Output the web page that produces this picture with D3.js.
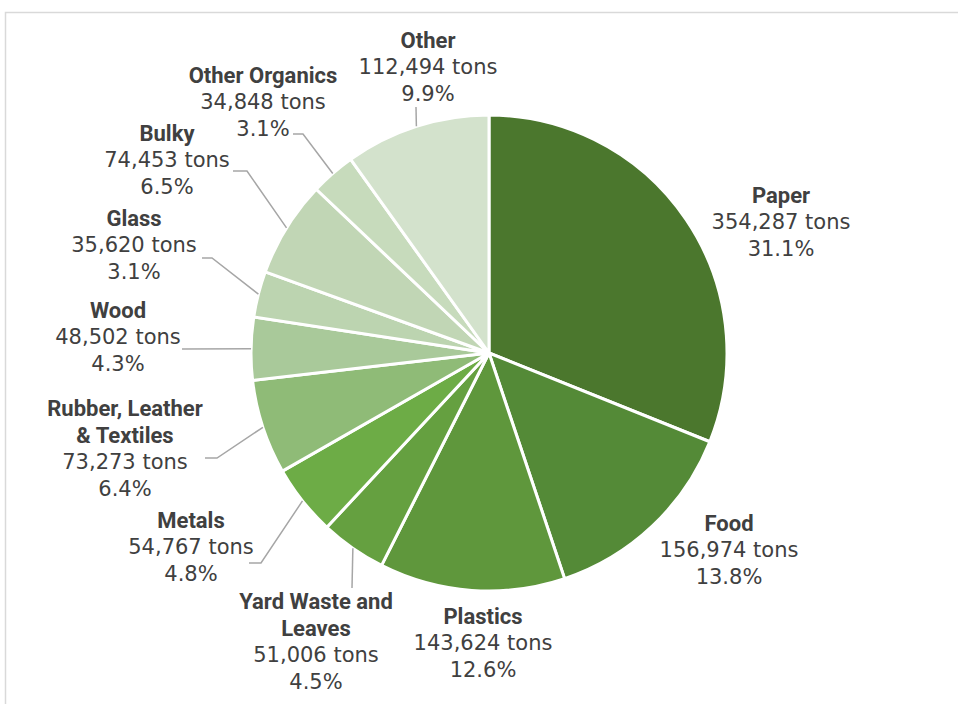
<!DOCTYPE html>
<html>
<head>
<meta charset="utf-8">
<script src="https://cdn.jsdelivr.net/npm/d3@7/dist/d3.min.js"></script>
<style>
  body { margin: 0; background: #fff; }
  .name { font-family: Roboto, "DejaVu Sans", sans-serif; font-weight: 700; fill: #404040; }
  .val { font-family: "DejaVu Sans", sans-serif; fill: #404040; }
</style>
</head>
<body>
<svg id="chart"></svg>
<script>
//-------------------------------------------------
// Data
//-------------------------------------------------
var categories = ["Paper", "Food", "Plastics", "Yard Waste and Leaves", "Metals",
  "Rubber, Leather & Textiles", "Wood", "Glass", "Bulky", "Other Organics", "Other"];
var tons = [354287, 156974, 143624, 51006, 54767, 73273, 48502, 35620, 74453, 34848, 112494];
var percents = ["31.1%", "13.8%", "12.6%", "4.5%", "4.8%", "6.4%", "4.3%", "3.1%", "6.5%", "3.1%", "9.9%"];
// label text broken into lines as in the original
var nameLines = [["Paper"], ["Food"], ["Plastics"], ["Yard Waste and", "Leaves"], ["Metals"],
  ["Rubber, Leather", "& Textiles"], ["Wood"], ["Glass"], ["Bulky"], ["Other Organics"], ["Other"]];
var colors = ["#4b772d", "#548a37", "#5f973c", "#65a040", "#6dac46", "#8fbb77",
  "#a9c99a", "#bcd4b0", "#c1d6b5", "#c7dbbc", "#d3e2cc"];

// label placement: centre x, y of first line (middle), leader elbow / end
var labelPos = [[781, 195], [729, 523], [483, 616], [316, 601], [191, 520],
  [125, 408], [118, 310], [134, 218], [167, 133], [263, 75], [428, 40]];
var leaderPts = [null, null, null, [[352, 588]], [[261, 563], [249, 563]],
  [[217, 458], [205, 458]], [[182, 349]], [[212, 258], [202, 258]],
  [[247, 171], [233, 171]], [[303, 134], [293, 134]], [[416, 107]]];
//-------------------------------------------------

var width = 958, height = 704;
var cx = 489, cy = 353, radius = 238;
var lineH = 27;

var svg = d3.select("#chart")
  .attr("width", width)
  .attr("height", height);

// chart frame
svg.append("path")
  .attr("d", "M5.5,704 L5.5,12.5 L958,12.5")
  .style("fill", "none")
  .style("stroke", "#d9d9d9")
  .style("stroke-width", 1.5);

var pie = d3.pie().sort(null).value(function(d){ return d; });
var arcs = pie(tons);

var arc = d3.arc().innerRadius(0).outerRadius(radius);

var g = svg.append("g").attr("transform", "translate(" + cx + "," + cy + ")");

g.selectAll("path")
  .data(arcs)
  .enter()
  .append("path")
  .attr("d", arc)
  .style("fill", function(d, i){ return colors[i]; })
  .style("stroke", "#fff")
  .style("stroke-width", 3)
  .style("stroke-linejoin", "round");

// leader lines: from the slice edge at mid-angle to the label
var fmt = d3.format(",");
arcs.forEach(function(d, i){
  if (!leaderPts[i]) return;
  var a = (d.startAngle + d.endAngle) / 2;
  var pts = [[cx + radius * Math.sin(a), cy - radius * Math.cos(a)]].concat(leaderPts[i]);
  svg.append("path")
    .attr("d", d3.line()(pts))
    .style("fill", "none")
    .style("stroke", "#a6a6a6")
    .style("stroke-width", 1.5);
});

// labels
arcs.forEach(function(d, i){
  var lines = nameLines[i].map(function(t){ return {t: t, c: "name"}; })
    .concat([{t: fmt(tons[i]) + " tons", c: "val"}, {t: percents[i], c: "val"}]);
  var t = svg.append("text")
    .attr("text-anchor", "middle")
    .attr("dominant-baseline", "central");
  lines.forEach(function(l, k){
    t.append("tspan")
      .attr("class", l.c)
      .attr("x", labelPos[i][0])
      .attr("y", labelPos[i][1] + k * lineH)
      .style("font-size", l.c == "name" ? "22px" : "21px")
      .text(l.t);
  });
});
</script>
</body>
</html>
